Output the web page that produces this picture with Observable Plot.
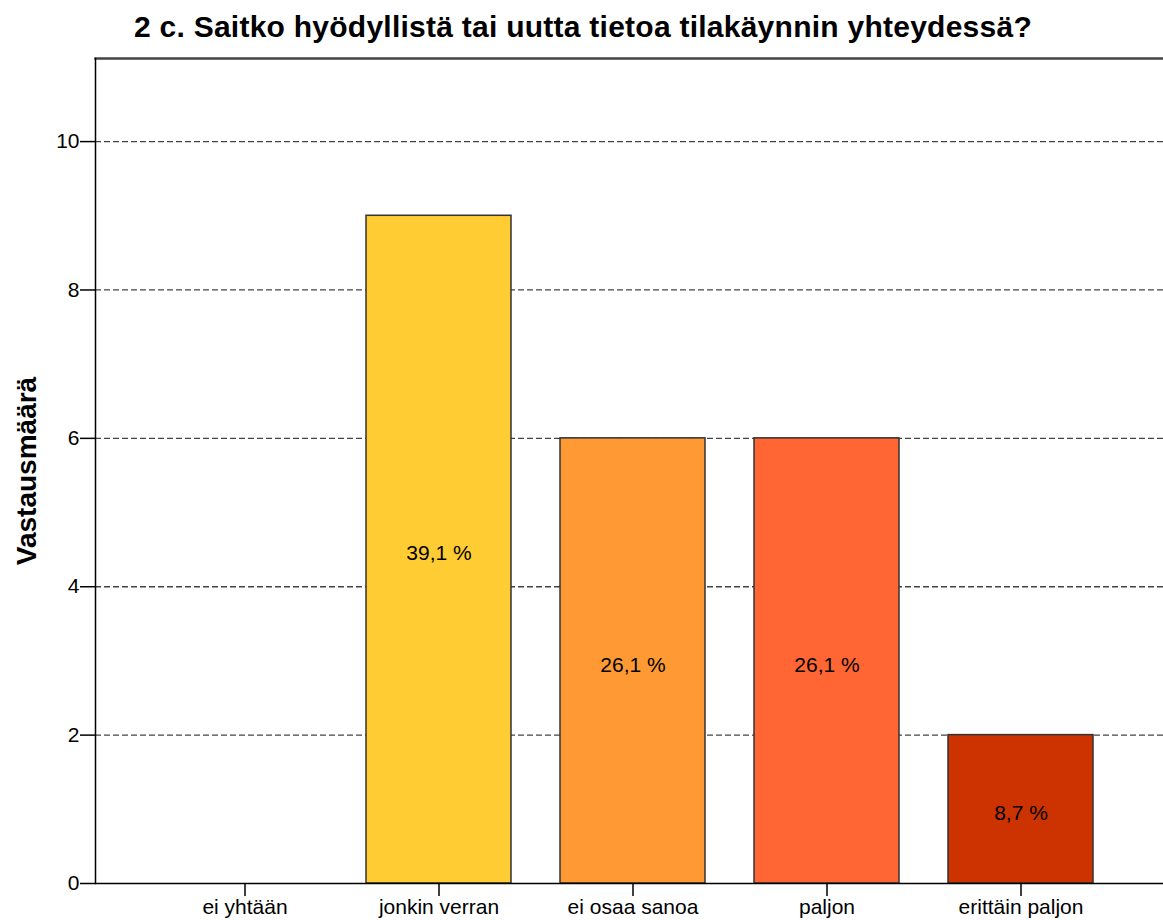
<!DOCTYPE html>
<html><head><meta charset="utf-8">
<script src="https://cdn.jsdelivr.net/npm/d3@7"></script>
<script src="https://cdn.jsdelivr.net/npm/@observablehq/plot@0.6"></script>
<style>
html,body{margin:0;padding:0;background:#fff;overflow:hidden}
#title{width:1166px;height:50px;text-align:center;font-family:"Liberation Sans",Arial,sans-serif;font-weight:bold;font-size:30px;line-height:30px;letter-spacing:0.25px;box-sizing:border-box;color:#000;white-space:nowrap}
#title span{display:inline-block;position:relative;top:12px}
svg{display:block}
</style>
</head><body>
<div id="title"><span>2 c. Saitko hyödyllistä tai uutta tietoa tilakäynnin yhteydessä?</span></div>
<div id="chart"></div>
<script>
const categories = ["ei yhtään","jonkin verran","ei osaa sanoa","paljon","erittäin paljon"];
const counts = [0, 9, 6, 6, 2];
const percents = [0, 39.1, 26.1, 26.1, 8.7];
const colors = ["#FFFFFF","#FFCC33","#FF9933","#FF6633","#CC3300"];
const yTicks = [0, 2, 4, 6, 8, 10];
const yLabel = "Vastausmäärä";

const data = categories.map((c, i) => ({category: c, count: counts[i], pct: percents[i]}));
const bars = data.filter(d => d.count > 0);
const fmt = p => d3.format(".1f")(p).replace(".", ",") + " %";

const chart = Plot.plot({
  width: 1163,
  height: 870,
  marginTop: 8,
  marginBottom: 37,
  marginLeft: 95,
  marginRight: 0,
  style: {fontFamily: "'Liberation Sans', Arial, sans-serif", fontSize: "21px", color: "#000", background: "#fff", overflow: "visible"},
  x: {domain: categories, range: [95, 1170], paddingInner: 0.252, paddingOuter: 0.393, label: null},
  y: {domain: [0, 11.12], label: null},
  color: {domain: categories, range: colors},
  marks: [
    Plot.ruleY(yTicks.filter(t => t > 0), {stroke: "#444", strokeWidth: 1.3, strokeDasharray: "6,3"}),
    Plot.barY(bars, {x: "category", y: "count", fill: "category", stroke: "#333", strokeWidth: 1.5}),
    Plot.text(bars, {x: "category", y: d => d.count / 2, dy: 4, text: d => fmt(d.pct), fill: "#000", fontSize: 21}),
    Plot.axisY({ticks: yTicks, tickSize: 15, tickPadding: 1, label: null, fontSize: 21, stroke: "#000", strokeWidth: 1.5}),
    Plot.axisX({tickSize: 13, tickPadding: 3, label: null, fontSize: 21, stroke: "#000", strokeWidth: 1.5}),
    Plot.ruleY([0], {stroke: "#000", strokeWidth: 1.5}),
    Plot.frame({anchor: "top", stroke: "#444", strokeWidth: 2.5}),
    Plot.frame({anchor: "left", stroke: "#000", strokeWidth: 1.5}),
    Plot.text([yLabel], {frameAnchor: "left", dx: -68, rotate: -90, textAnchor: "middle", fontSize: 28, fontWeight: "bold", fill: "#000"})
  ]
});
document.getElementById("chart").appendChild(chart);
</script>
</body></html>
